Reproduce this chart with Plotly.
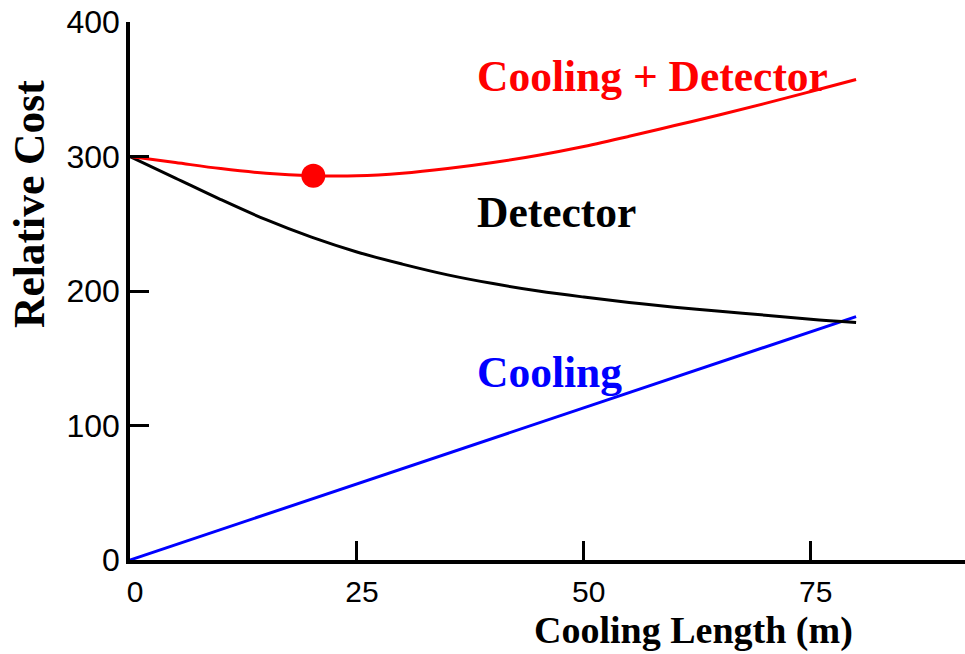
import plotly.graph_objects as go

# Data
x_vals = [0, 5, 10, 15, 20, 25, 30, 35, 40, 45, 50, 55, 60, 65, 70, 75, 80]
detector = [300, 284, 268, 253, 240, 229, 220, 212, 205.5, 200, 195.5, 191.5, 188, 185, 182, 179, 176.5]
total = [300, 295.5, 291, 287.5, 285.7, 285.6, 287.5, 291, 295.5, 301, 307.5, 315, 323, 331, 339.5, 348.3, 357.3]
cool_x = [0, 80]
cooling = [0, 181]
opt_x = [20.2]
opt_y = [285.7]

x_ticks = [0, 25, 50, 75]
y_ticks = [0, 100, 200, 300, 400]

label_font = "Liberation Serif"
tick_font = "Liberation Sans"

fig = go.Figure()
fig.add_trace(go.Scatter(x=cool_x, y=cooling, mode="lines",
                         line=dict(color="#0000ff", width=3), hoverinfo="skip"))
fig.add_trace(go.Scatter(x=x_vals, y=detector, mode="lines",
                         line=dict(color="#000000", width=3, shape="spline"), hoverinfo="skip"))
fig.add_trace(go.Scatter(x=x_vals, y=total, mode="lines",
                         line=dict(color="#ff0000", width=3, shape="spline"), hoverinfo="skip"))
fig.add_trace(go.Scatter(x=opt_x, y=opt_y, mode="markers",
                         marker=dict(color="#ff0000", size=24), hoverinfo="skip"))

fig.update_layout(
    width=965, height=654,
    margin=dict(l=130, r=0, t=22, b=94),
    paper_bgcolor="white", plot_bgcolor="white",
    showlegend=False,
    xaxis=dict(range=[0, 92], tickvals=x_ticks, ticktext=[str(v) for v in x_ticks],
               showgrid=False, zeroline=False, showline=True, linecolor="black", linewidth=3.5,
               ticks="inside", ticklen=19, tickwidth=3, tickcolor="black",
               tickfont=dict(family=tick_font, size=30, color="black"),
               ticklabelshift=5, ticklabelstandoff=2),
    yaxis=dict(range=[0, 400], tickvals=y_ticks, ticktext=[str(v) for v in y_ticks],
               showgrid=False, zeroline=False, showline=True, linecolor="black", linewidth=3.5,
               ticks="inside", ticklen=19, tickwidth=3, tickcolor="black",
               tickfont=dict(family=tick_font, size=32, color="black")),
)

ann_font = dict(family=label_font, size=43.5, weight="bold")
fig.add_annotation(x=38.0, y=359.5, xref="x", yref="y", text="Cooling + Detector",
                   showarrow=False, xanchor="left", yanchor="middle",
                   font=dict(ann_font, color="#ff0000"))
fig.add_annotation(x=38.0, y=259, xref="x", yref="y", text="Detector",
                   showarrow=False, xanchor="left", yanchor="middle",
                   font=dict(ann_font, color="#000000"))
fig.add_annotation(x=38.0, y=140, xref="x", yref="y", text="Cooling",
                   showarrow=False, xanchor="left", yanchor="middle",
                   font=dict(ann_font, color="#0000ff"))
fig.add_annotation(x=0.675, y=-0.1729, xref="paper", yref="paper", text="Cooling Length (m)",
                   showarrow=False, xanchor="center", yanchor="bottom", borderpad=0,
                   font=dict(family=label_font, size=38, weight="bold", color="#000000"))
fig.add_annotation(x=-0.1216, y=0.6626, xref="paper", yref="paper", text="Relative Cost",
                   showarrow=False, xanchor="center", yanchor="middle", textangle=-90,
                   font=dict(ann_font, color="#000000"))

fig.write_html("out.html")
